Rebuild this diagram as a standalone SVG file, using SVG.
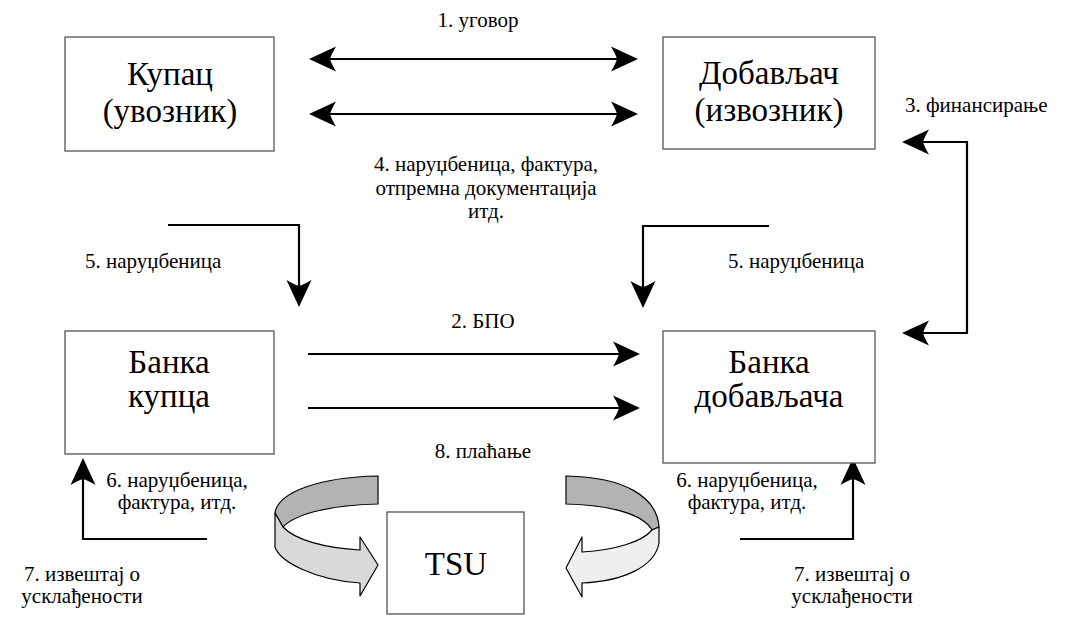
<svg xmlns="http://www.w3.org/2000/svg" width="1080" height="618" viewBox="0 0 1080 618">
  <style>
    .box { fill: #ffffff; stroke: #555555; stroke-width: 1.3; }
    .title { font-size: 33px; text-anchor: middle; }
    .lbl { font-size: 21px; }
    .mid { text-anchor: middle; }
    .flow { fill: none; stroke: #000; stroke-width: 2.2; }
    .rib { stroke: #000; stroke-width: 1.2; stroke-linejoin: round; }
  </style>
  <defs>
    <marker id="head" viewBox="-30 -15 32 30" markerWidth="32" markerHeight="30" refX="-8" refY="0" markerUnits="userSpaceOnUse" orient="auto-start-reverse">
      <path d="M0,0 L-27,-12.5 Q-22,-4 -21,0 Q-22,4 -27,12.5 Z" fill="#000"/>
    </marker>
  </defs>

  <rect width="1080" height="618" fill="#ffffff"/>

  <!-- connectors -->
  <g id="connectors">
    <!-- 1. contract, 4. documents -->
    <line class="flow" x1="317" y1="59" x2="630" y2="59" marker-start="url(#head)" marker-end="url(#head)"/>
    <line class="flow" x1="317" y1="114" x2="630" y2="114" marker-start="url(#head)" marker-end="url(#head)"/>
    <!-- 2. BPO, 8. payment -->
    <line class="flow" x1="308" y1="354" x2="632" y2="354" marker-end="url(#head)"/>
    <line class="flow" x1="308" y1="408" x2="632" y2="408" marker-end="url(#head)"/>
    <!-- 5. purchase orders -->
    <path class="flow" d="M168,225 H299 V299" marker-end="url(#head)"/>
    <path class="flow" d="M769,226 H643 V300" marker-end="url(#head)"/>
    <!-- 3. financing -->
    <path class="flow" d="M910,142 H967 V333 H910" marker-start="url(#head)" marker-end="url(#head)"/>
    <!-- 6. orders, invoices -->
    <path class="flow" d="M207,539 H83 V466" marker-end="url(#head)"/>
    <path class="flow" d="M740,539 H853 V466" marker-end="url(#head)"/>

    <!-- curved ribbon arrows into TSU -->
    <g id="ribbon-left">
      <path class="rib" fill="#b3b3b3" d="M378,476 C320,477 278,492 275,513 L283,527 C295,514 330,505 378,504 Z"/>
      <path class="rib" fill="#d9d9d9" d="M275,513 L275,547 C280,562 315,580 360,583 L360,596 L378,565 L360,537 L360,550 C325,548 295,540 283,527 Z"/>
    </g>
    <g id="ribbon-right">
      <path class="rib" fill="#b3b3b3" d="M566,476 C625,477 657,497 659,527 L652,530 C643,514 610,505 566,504 Z"/>
      <path class="rib" fill="#efefef" d="M659,527 L659,543 C655,566 625,581 582,583 L582,597 L566,568 L582,537 L582,552 C615,550 642,542 652,530 Z"/>
    </g>
  </g>

  <g font-family="Liberation Serif, Tinos, Times New Roman, Times, DejaVu Serif, serif" fill="#000">
  <!-- nodes -->
  <g id="kupac">
    <rect class="box" x="65" y="37" width="209" height="114"/>
    <text class="title" x="170" y="85">Купац</text>
    <text class="title" x="170" y="122">(увозник)</text>
  </g>
  <g id="dobavljac">
    <rect class="box" x="663" y="37" width="212" height="112"/>
    <text class="title" x="769" y="84">Добављач</text>
    <text class="title" x="769" y="121">(извозник)</text>
  </g>
  <g id="banka-kupca">
    <rect class="box" x="65" y="331" width="209" height="123"/>
    <text class="title" x="169" y="373">Банка</text>
    <text class="title" x="169" y="407">купца</text>
  </g>
  <g id="banka-dobavljaca">
    <rect class="box" x="663" y="331" width="212" height="132"/>
    <text class="title" x="769" y="373">Банка</text>
    <text class="title" x="769" y="407">добављача</text>
  </g>
  <g id="tsu">
    <rect class="box" x="387" y="512" width="137" height="102"/>
    <text class="title" x="456" y="575">TSU</text>
  </g>

  <!-- labels -->
  <g id="labels">
    <text class="lbl mid" x="478" y="27">1. уговор</text>
    <text class="lbl mid" x="486" y="171">4. наруџбеница, фактура,</text>
    <text class="lbl mid" x="486" y="195">отпремна документација</text>
    <text class="lbl mid" x="486" y="218">итд.</text>
    <text class="lbl" x="905" y="112">3. финансирање</text>
    <text class="lbl" x="85" y="268">5. наруџбеница</text>
    <text class="lbl" x="728" y="268">5. наруџбеница</text>
    <text class="lbl mid" x="483" y="328">2. БПО</text>
    <text class="lbl mid" x="483" y="458">8. плаћање</text>
    <text class="lbl mid" x="177" y="487">6. наруџбеница,</text>
    <text class="lbl mid" x="177" y="509">фактура, итд.</text>
    <text class="lbl mid" x="747" y="487">6. наруџбеница,</text>
    <text class="lbl mid" x="747" y="509">фактура, итд.</text>
    <text class="lbl mid" x="82" y="581">7. извештај о</text>
    <text class="lbl mid" x="82" y="603">усклађености</text>
    <text class="lbl mid" x="852" y="581">7. извештај о</text>
    <text class="lbl mid" x="852" y="603">усклађености</text>
  </g>
  </g>
</svg>
